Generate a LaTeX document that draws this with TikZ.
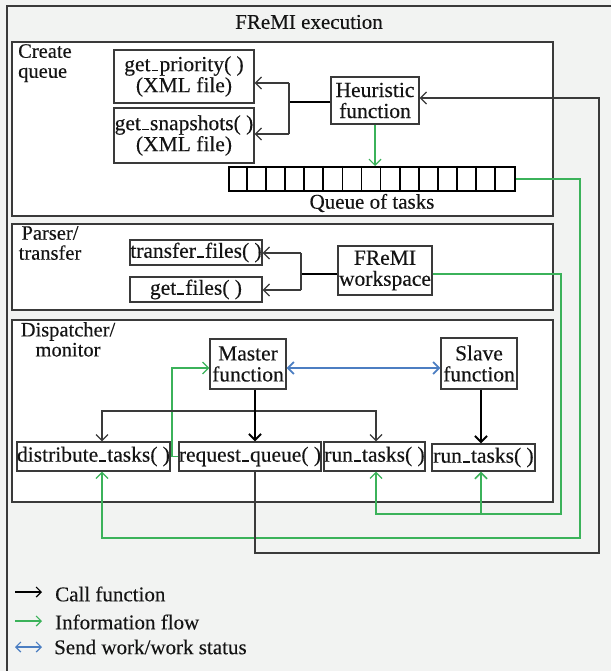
\documentclass[tikz,border=0pt]{standalone}
\usepackage{fontspec}
\setmainfont{Liberation Serif}[FakeBold=0.25]
\usetikzlibrary{arrows.meta}

% low bar used in the function names
\newcommand\usbar{\leavevmode\kern.05em\vbox{\hrule width .32em height 1.3pt}\kern.05em}

\definecolor{bgray}{HTML}{F2F3F2}
\definecolor{frame}{HTML}{3A3A3A}
\definecolor{infogreen}{HTML}{3BB25A}
\definecolor{workblue}{HTML}{4C7EC2}
\definecolor{ink}{HTML}{141414}

\tikzset{
  barb/.tip={Straight Barb[length=6pt,width=12pt]},
  keybarb/.tip={Straight Barb[length=5pt,width=10pt]},
  panel/.style={draw=frame, line width=1.4pt, fill=white},
  fbox/.style={draw=frame, line width=1.3pt, fill=white, inner sep=0pt,
    text=ink, align=center, font=\fontsize{21.5}{21}\selectfont},
  call/.style={draw=frame, line width=1.2pt, -{barb}},
  callthick/.style={draw=black, line width=2pt, -{barb}},
  info/.style={draw=infogreen, line width=1.2pt, -{barb}},
  work/.style={draw=workblue, line width=1.8pt, {barb}-{barb}},
  lbl/.style={text=ink, inner sep=0pt, font=\fontsize{20.5}{20}\selectfont},
  big/.style={font=\fontsize{21}{21}\selectfont},
}

\begin{document}
\begin{tikzpicture}[x=1pt,y=-1pt]
  % page and outer frame
  \fill[bgray] (0,0) rectangle (611,671);
  \useasboundingbox (0,0) rectangle (611,671);
  \draw[frame, line width=1.4pt] (611,6) -- (7,6) -- (7,671);
  \node[lbl, big] (title) at (309,22) {FReMI execution};

  % three stages
  \draw[panel] (12,42) rectangle (553,216);
  \draw[panel] (12,224) rectangle (553,310);
  \draw[panel] (12,320) rectangle (553,502);

  \node[lbl, anchor=north west, align=left] (cq) at (18,44) {Create\\queue};
  \node[lbl, anchor=north, align=center] (pt) at (50,226) {Parser/\\transfer};
  \node[lbl, anchor=north, align=center] (dm) at (68,322) {Dispatcher/\\monitor};

  % create queue
  \node[fbox, minimum width=140pt, minimum height=53pt] (priority) at (184,76.5) {get\usbar priority( )\\(XML file)};
  \node[fbox, minimum width=140pt, minimum height=55pt] (snapshots) at (184,135.5) {get\usbar snapshots( )\\(XML file)};
  \node[fbox, minimum width=88pt, minimum height=47pt] (heuristic) at (375,100.5) {Heuristic\\function};

  \node[draw=black, line width=2pt, fill=white, inner sep=0pt,
        minimum width=286pt, minimum height=24pt] (queue) at (372,179) {};
  \foreach \i in {1,...,14}
    \draw[black, line width=1.8pt] ([xshift=\i*19.07pt]queue.north west) -- ([xshift=\i*19.07pt]queue.south west);
  \node[lbl, big] (qlabel) at (372,203) {Queue of tasks};

  % parser / transfer
  \node[fbox, minimum width=132pt, minimum height=25pt] (transfer) at (196,252.5) {transfer\usbar files( )};
  \node[fbox, minimum width=132pt, minimum height=25pt] (getfiles) at (196,289.5) {get\usbar files( )};
  \node[fbox, minimum width=94pt, minimum height=49pt] (workspace) at (385,270.5) {FReMI\\workspace};

  % dispatcher / monitor
  \node[fbox, minimum width=76pt, minimum height=50pt] (master) at (248,364) {Master\\function};
  \node[fbox, minimum width=76pt, minimum height=51pt] (slave) at (479,363.5) {Slave\\function};
  \node[fbox, minimum width=151pt, minimum height=29pt] (distribute) at (93.5,456.5) {distribute\usbar tasks( )};
  \node[fbox, minimum width=140pt, minimum height=29pt] (request) at (250,456.5) {request\usbar queue( )};
  \node[fbox, minimum width=101pt, minimum height=29pt] (run1) at (374.5,456.5) {run\usbar tasks( )};
  \node[fbox, minimum width=103pt, minimum height=27pt] (run2) at (483.5,457.5) {run\usbar tasks( )};

  % junction points of the connectors
  \coordinate (hj) at (289,102);
  \coordinate (hjt) at (289,83);
  \coordinate (hjb) at (289,134);
  \coordinate (wj) at (301,274);
  \coordinate (wjt) at (301,253);
  \coordinate (wjb) at (301,290);
  \coordinate (qj) at (580,538);
  \coordinate (wk) at (561,514);
  \coordinate (rj) at (481,514);
  \coordinate (lj) at (599,553);
  \coordinate (bl) at (102,411);
  \coordinate (br) at (376,411);
  \coordinate (mx) at (255,0);
  \coordinate (sx) at (481,0);
  \coordinate (by) at (0,368);
  \coordinate (gm) at (172,368);

  % heuristic function calls
  \draw[black, line width=2pt] (heuristic.west |- hj) -- (hj);
  \draw[call] (hjt) -- (priority.east |- hjt);
  \draw[call] (hjb) -- (snapshots.east |- hjb);
  \draw[frame, line width=1.2pt] (hjt) -- (hjb);
  \draw[info] (heuristic.south) -- (heuristic.south |- queue.north);

  % workspace calls
  \draw[black, line width=2pt] (workspace.west |- wj) -- (wj);
  \draw[call] (wjt) -- (transfer.east |- wjt);
  \draw[call] (wjb) -- (getfiles.east |- wjb);
  \draw[frame, line width=1.2pt] (wjt) -- (wjb);

  % information flow out of the queue and the workspace
  \draw[info] (queue.east) -| (qj) -| (bl |- distribute.south);
  \draw[info] (workspace.east |- wj) -| (wk) -| (br |- run1.south);
  \draw[info, line width=1.6pt] (rj) -- (rj |- run2.south);
  \draw[info] (request.west) -| (gm) -- (master.west |- gm);

  % request_queue feeds back to the heuristic function
  \draw[call] (mx |- request.south) |- (lj) |- ([yshift=2.5pt]heuristic.east);

  % master and slave calls
  \draw[call, {barb}-{barb}] (bl |- distribute.north) -- (bl) -- (br) -- (br |- run1.north);
  \draw[callthick] (mx |- master.south) -- (mx |- request.north);
  \draw[callthick] (sx |- slave.south) -- (sx |- run2.north);
  \draw[work] (master.east |- by) -- (slave.west |- by);

  % legend
  \coordinate (k1a) at (15,592); \coordinate (k1b) at (42,592);
  \coordinate (k2a) at (15,621); \coordinate (k2b) at (42,621);
  \coordinate (k3a) at (15,647); \coordinate (k3b) at (42,647);
  \draw[black, line width=1.2pt, -{keybarb}] (k1a) -- (k1b);
  \draw[infogreen, line width=1.2pt, -{keybarb}] (k2a) -- (k2b);
  \draw[workblue, line width=1.2pt, {keybarb}-{keybarb}] (k3a) -- (k3b);
  \node[lbl, big, anchor=west] (l1) at (55,594) {Call function};
  \node[lbl, big, anchor=west] (l2) at (55,622) {Information flow};
  \node[lbl, big, anchor=west] (l3) at (54,647) {Send work/work status};
\end{tikzpicture}
\end{document}
